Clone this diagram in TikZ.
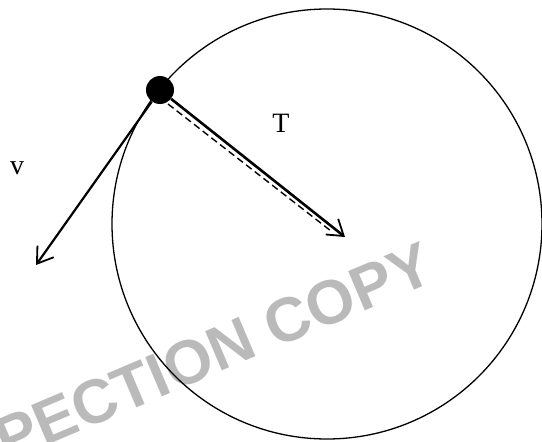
\documentclass[tikz,border=0pt]{standalone}
\usepackage{fontspec}
\setmainfont{Liberation Serif}
\newfontfamily\wmfont{Liberation Sans}
\usetikzlibrary{arrows.meta,calc}
\tikzset{
  barb/.style={-{Straight Barb[length=15pt,width=20pt,line width=1.8pt]}},
  lbl/.style={font=\fontsize{28}{32}\selectfont, inner sep=0pt},
  wm/.style={font=\wmfont\bfseries\fontsize{62}{66}\selectfont, text=black!27, inner sep=0pt, rotate=23}
}
\begin{document}
\begin{tikzpicture}[x=1pt,y=-1pt]
\useasboundingbox (0,0) rectangle (542,442);
% watermark
\node[wm] (wmk) at (166,372) {INSPECTION COPY};
% circle
\coordinate (c) at (327,224);
\draw[line width=1.3pt] (c) circle [radius=215pt];
% ball
\node[circle, fill=black, minimum size=28pt, inner sep=0pt] (ball) at (160,90) {};
% tips
\coordinate (ttip) at (345,237);
\coordinate (vtip) at (36,265);
\coordinate (ds) at (168,104);
\coordinate (de) at (331,231);
% dashed
\draw[line width=1.4pt, dash pattern=on 7pt off 4pt] (ds) -- (de);
% T arrow
\draw[line width=2.6pt, barb] (ball) -- (ttip);
% v arrow
\draw[line width=2.2pt, barb] (ball) -- (vtip);
% labels
\node[lbl] (T) at (281,123) {T};
\node[lbl] (v) at (17,168) {v};
\end{tikzpicture}
\end{document}
